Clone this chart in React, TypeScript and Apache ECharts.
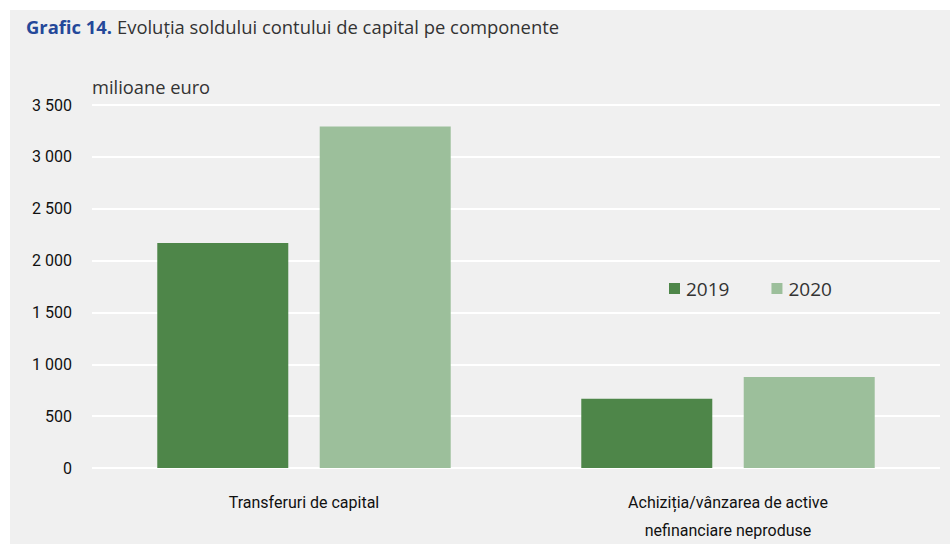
import React, { useEffect, useRef } from "react";
import * as echarts from "echarts";

const categories = ["Transferuri de capital", "Achiziția/vânzarea de active\nnefinanciare neproduse"];
const seriesNames = ["2019", "2020"];
const values2019 = [2170, 668];
const values2020 = [3292, 877];
const yTicks = [0, 500, 1000, 1500, 2000, 2500, 3000, 3500];

const narrow = "Roboto, 'Liberation Sans Narrow', sans-serif";
const regular = "'Open Sans', 'Noto Sans', sans-serif";

function fmt(v: number): string {
  const s = String(Math.round(v));
  return s.replace(/\B(?=(\d{3})+(?!\d))/g, " ");
}

export default function App() {
  const ref = useRef<HTMLDivElement>(null);
  useEffect(() => {
    document.body.style.margin = "0";
    const chart = echarts.init(ref.current!, undefined, { renderer: "svg" });
    chart.setOption({
      animation: false,
      backgroundColor: "#ffffff",
      title: {
        text: "{b|Grafic 14.} {n|Evoluția soldului contului de capital pe componente}",
        left: 21,
        top: 12,
        textStyle: {
          fontWeight: "normal",
          rich: {
            b: { fontFamily: regular, fontSize: 18.4, fontWeight: "bold", color: "#24489a" },
            n: { fontFamily: regular, fontSize: 18.4, fontWeight: "normal", color: "#333333" },
          },
        },
      },
      graphic: [
        {
          type: "rect",
          z: -10,
          silent: true,
          shape: { x: 10, y: 10, width: 940, height: 534 },
          style: { fill: "#f0f0f0" },
        },
        {
          type: "text",
          left: 92,
          top: 77,
          style: { text: "milioane euro", font: `18.3px ${regular}`, fill: "#333333" },
        },
      ],
      legend: {
        data: seriesNames,
        left: 664,
        top: 274,
        itemWidth: 11,
        itemHeight: 11,
        itemGap: 42,
        icon: "rect",
        textStyle: { fontFamily: regular, fontSize: 19, color: "#333333", padding: [0, 0, 0, 1] },
      },
      grid: { left: 92, right: 10, top: 105, bottom: 70, containLabel: false },
      xAxis: {
        type: "category",
        data: categories,
        axisLine: { show: false },
        axisTick: { show: false },
        axisLabel: {
          fontFamily: narrow,
          fontSize: 16,
          color: "#111111",
          lineHeight: 28,
          margin: 20,
          interval: 0,
        },
      },
      yAxis: {
        type: "value",
        min: 0,
        max: 3500,
        interval: 500,
        axisLine: { show: false },
        axisTick: { show: false },
        splitLine: { show: true, lineStyle: { color: "#ffffff", width: 2 } },
        axisLabel: {
          fontFamily: narrow,
          fontSize: 16,
          color: "#111111",
          margin: 20,
          formatter: (v: number) => (yTicks.includes(v) ? fmt(v) : ""),
        },
      },
      series: [
        {
          name: seriesNames[0],
          type: "bar",
          data: values2019,
          barWidth: 131,
          barGap: "24%",
          itemStyle: { color: "#4e8649" },
        },
        {
          name: seriesNames[1],
          type: "bar",
          data: values2020,
          barWidth: 131,
          barGap: "24%",
          itemStyle: { color: "#9cbf9b" },
        },
      ],
    });
    return () => chart.dispose();
  }, []);
  return <div ref={ref} style={{ width: 950, height: 544 }} />;
}
